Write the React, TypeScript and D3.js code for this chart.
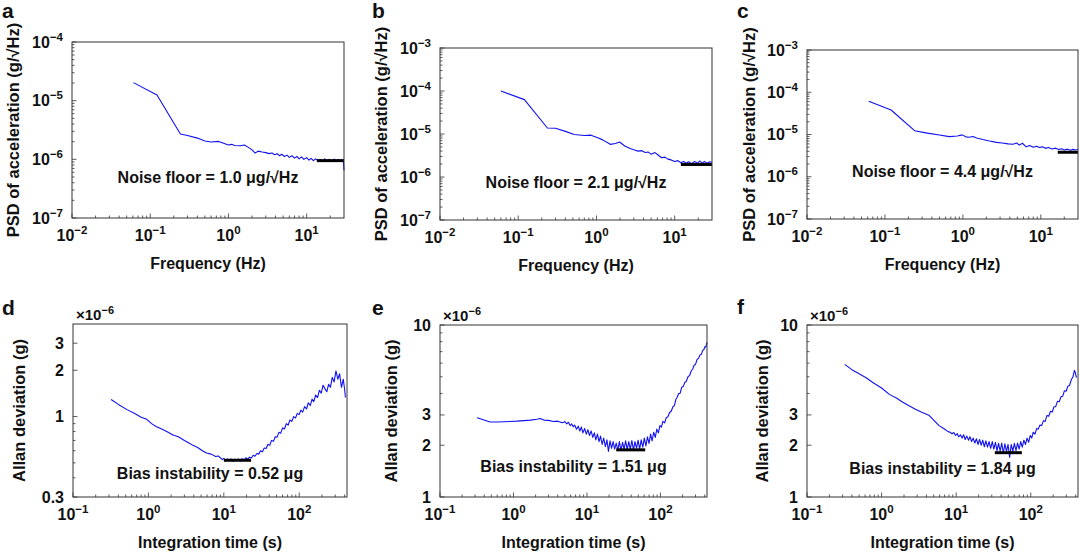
import * as React from 'react';
import {scaleLog, line} from 'd3';

// PSD curves, frequency in Hz, value in µg/√Hz
const psdFreqA = [0.061, 0.122, 0.243, 0.3, 0.4, 0.5, 0.6, 0.75, 0.85, 1.0, 1.1, 1.2, 1.4, 1.6, 1.8, 2.0, 2.2, 2.4, 2.7, 3.0, 3.3, 3.6, 3.9, 4.2, 4.5, 4.8, 5.2, 5.6, 6.0, 6.5, 7.0, 7.5, 8.0, 8.6, 9.2, 10, 10.7, 11.4, 12.2, 13, 14, 15, 16, 17, 18.2, 19.5, 21, 22.5, 24, 25.5, 27, 28.5, 29.5, 30];
const psdValA = [20.3, 12.5, 2.7, 2.55, 2.3, 2.05, 1.98, 2.02, 1.9, 1.75, 1.8, 1.72, 1.7, 1.75, 1.6, 1.45, 1.28, 1.38, 1.33, 1.3, 1.25, 1.28, 1.2, 1.25, 1.15, 1.22, 1.12, 1.18, 1.08, 1.15, 1.05, 1.12, 1.02, 1.1, 1.0, 1.07, 0.97, 1.04, 0.95, 1.02, 0.94, 1.0, 0.93, 1.02, 0.94, 1.0, 0.93, 1.01, 0.94, 1.0, 0.92, 0.98, 0.9, 0.65];

const psdFreqB = [0.06, 0.12, 0.236, 0.3, 0.4, 0.52, 0.7, 0.85, 1.04, 1.2, 1.5, 1.75, 1.98, 2.3, 2.7, 3.0, 3.4, 3.8, 4.2, 4.6, 5.0, 5.6, 6.2, 6.8, 7.5, 8.2, 9.0, 10, 11, 12, 13, 14, 15, 16.5, 18, 19.5, 21, 22.5, 24, 26, 28, 30];
const psdValB = [100, 63, 13.8, 13.6, 11.5, 9.7, 9.2, 9.4, 8.2, 7.3, 5.75, 6.0, 6.5, 5.25, 4.6, 4.3, 4.0, 4.1, 3.7, 3.8, 3.4, 3.7, 3.2, 2.8, 2.9, 2.6, 2.5, 2.3, 2.4, 2.15, 2.3, 2.1, 2.25, 2.05, 2.3, 2.1, 2.35, 2.1, 2.3, 2.1, 2.25, 2.2];

const psdFreqC = [0.062, 0.12, 0.24, 0.35, 0.5, 0.67, 0.85, 0.98, 1.09, 1.2, 1.35, 1.5, 1.8, 2.2, 2.7, 3.2, 3.8, 4.4, 4.9, 5.3, 5.8, 6.5, 7.2, 8.0, 8.8, 9.6, 10.5, 11.5, 12.5, 14, 15.5, 17, 18.5, 20, 22, 24, 26, 28, 30];
const psdValC = [61, 38, 12.3, 10.8, 9.7, 8.9, 9.2, 9.8, 8.8, 8.6, 9.0, 8.3, 7.6, 7.0, 6.5, 6.3, 6.0, 5.9, 6.3, 5.6, 6.2, 5.1, 5.5, 5.0, 5.3, 4.9, 5.1, 4.7, 4.9, 4.55, 4.75, 4.4, 4.6, 4.3, 4.5, 4.25, 4.45, 4.3, 4.4];

// Allan deviation curves, integration time in s, value in µg
const allanTauD = [0.32, 0.4, 0.52, 0.65, 0.8, 0.95, 1.1, 1.28, 1.5, 1.75, 2.12, 2.5, 3.0, 3.5, 3.9, 4.5, 5.2, 5.9, 6.8, 7.8, 8.4,
  9, 9.5, 10, 10.6, 11.2, 11.8, 12.5, 13.2, 14, 14.8, 15.6, 16.5, 17.5, 18.5, 19.6, 20.7, 21.9, 23.2, 24.5, 25.9, 27.4, 29, 30.7, 32.5,
  34.4, 36.4, 38.5, 40.7, 43, 45.5, 48.1, 50.9, 53.8, 56.9, 60.2, 63.7, 67.4, 71.3, 75.4, 79.7, 84.3, 89.2, 94.3, 99.7, 105, 111, 118,
  125, 132, 140, 148, 156, 165, 175, 185, 196, 207, 219, 232, 245, 259, 274, 290, 307, 325, 343, 363, 384, 400, 410];
const allanValD = [1.29, 1.2, 1.11, 1.05, 0.99, 0.96, 0.9, 0.86, 0.83, 0.8, 0.76, 0.74, 0.7, 0.67, 0.65, 0.63, 0.6, 0.58, 0.57, 0.55, 0.555,
  0.54, 0.525, 0.535, 0.515, 0.53, 0.52, 0.53, 0.512, 0.528, 0.518, 0.53, 0.515, 0.532, 0.52, 0.54, 0.528, 0.545, 0.538, 0.56, 0.552, 0.575, 0.57, 0.6, 0.59,
  0.625, 0.62, 0.66, 0.65, 0.7, 0.69, 0.74, 0.735, 0.79, 0.78, 0.845, 0.83, 0.9, 0.88, 0.95, 0.93, 1.0, 0.98, 1.05, 1.03, 1.1, 1.07, 1.16,
  1.12, 1.23, 1.18, 1.3, 1.25, 1.38, 1.33, 1.48, 1.42, 1.6, 1.52, 1.45, 1.62, 1.55, 1.8, 1.68, 1.98, 1.75, 1.9, 1.55, 1.75, 1.5, 1.33];

const allanTauE = [0.32, 0.38, 0.48, 0.6, 0.75, 0.9, 1.1, 1.4, 1.7, 2.08, 2.3, 2.6, 3.0, 3.5, 4.0, 4.6,
  5.0, 5.3, 5.6, 5.9, 6.2, 6.5, 6.8, 7.2, 7.6, 8.0, 8.4, 8.8, 9.3, 9.8, 10.3, 10.8, 11.4, 12, 12.6, 13.2, 13.9, 14.6, 15.3, 16.1, 16.9,
  17.8, 18.7, 19.6, 20.6, 21.6, 22.7, 23.8, 25, 26.3, 27.6, 29, 30.5, 32, 33.6, 35.3, 37, 38.9, 40.8, 42.9, 45, 47.3, 49.6, 52.1, 54.7,
  57.5, 60.3, 63.4, 66.5, 69.9, 73.4, 77, 80.9, 85, 89.2, 93.7, 98.4, 103, 108, 114, 120, 126,
  133, 140, 148, 155, 162, 169, 177, 185, 195, 205, 215, 225, 237, 250, 262, 275, 288, 300, 315, 330, 345, 360, 375, 390, 405, 415, 425, 435];
const allanValE = [2.89, 2.82, 2.73, 2.73, 2.74, 2.75, 2.76, 2.78, 2.8, 2.83, 2.86, 2.8, 2.79, 2.75, 2.76, 2.7,
  2.74, 2.66, 2.72, 2.6, 2.66, 2.56, 2.62, 2.48, 2.58, 2.42, 2.55, 2.36, 2.5, 2.32, 2.46, 2.28, 2.42, 2.22, 2.36, 2.15, 2.32, 2.1, 2.26, 2.02, 2.2,
  1.96, 2.15, 1.84, 2.12, 1.92, 2.1, 1.9, 2.06, 1.87, 2.1, 1.86, 2.08, 1.9, 2.12, 1.88, 2.1, 1.9, 2.13, 1.88, 2.1, 1.92, 2.14, 1.9, 2.15,
  1.95, 2.2, 1.98, 2.24, 2.05, 2.32, 2.12, 2.38, 2.22, 2.48, 2.36, 2.6, 2.55, 2.75, 2.7, 2.9, 2.92,
  3.1, 3.15, 3.35, 3.4, 3.7, 3.8, 4.0, 4.0, 4.35, 4.4, 4.65, 4.7, 5.0, 5.1, 5.4, 5.55, 5.85, 5.9, 6.3, 6.4, 6.7, 6.75, 7.1, 7.2, 7.5, 7.45, 7.8, 7.9];

const allanTauF = [0.32, 0.4, 0.5, 0.62, 0.78, 1.0, 1.27, 1.6, 1.9, 2.3, 2.8, 3.4, 4.3, 5.0, 5.9, 6.8, 7.8,
  8.3, 8.8, 9.3, 9.8, 10.3, 10.8, 11.4, 12, 12.6, 13.2, 13.9, 14.6, 15.3, 16.1, 16.9, 17.8, 18.7, 19.6, 20.6, 21.6, 22.7, 23.8, 25,
  26.3, 27.6, 29, 30.5, 32, 33.6, 35.3, 37, 38.9, 40.8, 42.9, 45, 47.3, 49.6, 52.1, 54.7, 57.5, 60.3, 63.4, 66.5, 69.9, 73.4, 77, 80.9,
  85, 89.2, 93.7, 98.4, 103, 108, 114, 120, 126, 133, 140, 148, 156, 165, 174, 184, 194, 205, 216, 228, 241, 254, 268, 283, 298, 314,
  331, 349, 368, 385, 395, 410];
const allanValF = [5.9, 5.5, 5.2, 4.94, 4.6, 4.3, 3.95, 3.75, 3.57, 3.4, 3.25, 3.12, 2.99, 2.8, 2.6, 2.5, 2.4,
  2.38, 2.33, 2.37, 2.28, 2.34, 2.24, 2.3, 2.2, 2.3, 2.16, 2.26, 2.14, 2.24, 2.1, 2.2, 2.06, 2.18, 2.02, 2.16, 2.0, 2.14, 1.96, 2.12,
  1.95, 2.1, 1.92, 2.1, 1.9, 2.08, 1.86, 2.05, 1.85, 2.06, 1.8, 2.04, 1.84, 2.02, 1.7, 2.02, 1.84, 2.05, 1.86, 2.06, 1.9, 2.1, 1.95, 2.14,
  2.02, 2.2, 2.08, 2.28, 2.2, 2.38, 2.32, 2.5, 2.48, 2.62, 2.6, 2.78, 2.75, 2.98, 2.95, 3.15, 3.12, 3.35, 3.35, 3.6, 3.58, 3.82, 3.85, 4.15, 4.12, 4.4,
  4.45, 4.8, 5.0, 5.45, 5.3, 4.94];

// black reference bars: [x0, x1, level in µ units]
const floorBarA = [13.5, 30, 0.95];
const floorBarB = [12, 30, 1.95];
const floorBarC = [16.5, 30, 3.8];
const biasBarD = [10, 23, 0.52];
const biasBarE = [25, 62, 1.88];
const biasBarF = [33, 76, 1.81];

// tick labels
const psdXExps = [-2, -1, 0, 1];
const allanXExps = [-1, 0, 1, 2];
const psdYExpsA = [-4, -5, -6, -7];
const psdYExpsBC = [-3, -4, -5, -6, -7];
const allanYTicksD = [0.3, 1, 2, 3];
const allanYTicksEF = [1, 2, 3, 10];

const annotations = [
  'Noise floor = 1.0 \u03bcg/\u221aHz',
  'Noise floor = 2.1 \u03bcg/\u221aHz',
  'Noise floor = 4.4 \u03bcg/\u221aHz',
  'Bias instability = 0.52 \u03bcg',
  'Bias instability = 1.51 \u03bcg',
  'Bias instability = 1.84 \u03bcg',
];

const font = '"Liberation Sans", Arial, Helvetica, sans-serif';
const blue = '#1010f0';

type Box = {l: number, t: number, r: number, b: number};
type PanelDef = {
  letter: string, lx: number, ly: number,
  box: Box, kind: 'psd' | 'allan',
  xDomain: [number, number], yDomain: [number, number],
  xs: number[], ys: number[], bar: number[],
  yExps?: number[], yNums?: number[],
  note: string, noteY: number, yTitleX: number,
};

const panels: PanelDef[] = [
  {letter: 'a', lx: 2, ly: 18, box: {l: 72, t: 42, r: 344, b: 218}, kind: 'psd', xDomain: [0.01, 30], yDomain: [1e-7, 1e-4],
    xs: psdFreqA, ys: psdValA, bar: floorBarA, yExps: psdYExpsA, note: annotations[0], noteY: 183, yTitleX: 13},
  {letter: 'b', lx: 372, ly: 18, box: {l: 440, t: 48, r: 712, b: 220}, kind: 'psd', xDomain: [0.01, 30], yDomain: [1e-7, 1e-3],
    xs: psdFreqB, ys: psdValB, bar: floorBarB, yExps: psdYExpsBC, note: annotations[1], noteY: 188, yTitleX: 381},
  {letter: 'c', lx: 737, ly: 18, box: {l: 807, t: 50, r: 1078, b: 219}, kind: 'psd', xDomain: [0.01, 30], yDomain: [1e-7, 1e-3],
    xs: psdFreqC, ys: psdValC, bar: floorBarC, yExps: psdYExpsBC, note: annotations[2], noteY: 177, yTitleX: 749},
  {letter: 'd', lx: 2, ly: 315, box: {l: 73, t: 324, r: 347, b: 497}, kind: 'allan', xDomain: [0.1, 430], yDomain: [0.3e-6, 4e-6],
    xs: allanTauD, ys: allanValD, bar: biasBarD, yNums: allanYTicksD, note: annotations[3], noteY: 479, yTitleX: 19},
  {letter: 'e', lx: 372, ly: 315, box: {l: 440, t: 325, r: 707, b: 497}, kind: 'allan', xDomain: [0.1, 430], yDomain: [1e-6, 10e-6],
    xs: allanTauE, ys: allanValE, bar: biasBarE, yNums: allanYTicksEF, note: annotations[4], noteY: 472, yTitleX: 391},
  {letter: 'f', lx: 737, ly: 314, box: {l: 807, t: 325, r: 1078, b: 497}, kind: 'allan', xDomain: [0.1, 430], yDomain: [1e-6, 10e-6],
    xs: allanTauF, ys: allanValF, bar: biasBarF, yNums: allanYTicksEF, note: annotations[5], noteY: 474, yTitleX: 762},
];

const minus = (e: number) => (e < 0 ? '\u2212' + Math.abs(e) : String(e));

function Pow({x, y, exp, anchor}: {x: number, y: number, exp: number, anchor: string}) {
  return (
    <text x={x} y={y} textAnchor={anchor} fontSize={16} fontWeight="bold">
      10<tspan dy={-7} fontSize={11.5}>{minus(exp)}</tspan>
    </text>
  );
}

function Panel({p}: {p: PanelDef}) {
  const {box} = p;
  const x = scaleLog().domain(p.xDomain).range([box.l, box.r]);
  const y = scaleLog().domain(p.yDomain).range([box.b, box.t]);
  const pts: [number, number][] = p.xs.map((v, i) => [v, p.ys[i] * 1e-6]);
  const path = line<[number, number]>().x(d => x(d[0])).y(d => y(d[1]))(pts) || '';

  const xExps = p.kind === 'psd' ? psdXExps : allanXExps;
  const xMajor = xExps.map(e => Math.pow(10, e));
  const yMajor = p.kind === 'psd' ? p.yExps!.map(e => Math.pow(10, e)) : p.yNums!.map(v => v * 1e-6);
  const near = (a: number, list: number[]) => list.some(m => Math.abs(Math.log10(a) - Math.log10(m)) < 1e-6);
  const xMinor = x.ticks().filter(t => !near(t, xMajor) && t > p.xDomain[0] && t < p.xDomain[1]);
  const yMinor = y.ticks().filter(t => !near(t, yMajor) && t > p.yDomain[0] && t < p.yDomain[1]);
  const cx = (box.l + box.r) / 2;
  const cy = (box.t + box.b) / 2;
  const [b0, b1, bv] = p.bar;

  return (
    <g fontFamily={font} fill="#111">
      <text x={p.lx} y={p.ly} fontSize={21} fontWeight="bold">{p.letter}</text>
      {p.kind === 'allan' && (
        <text x={box.l + 3} y={box.t - 4} fontSize={15} fontWeight="bold">
          {'\u00d710'}<tspan dy={-6} fontSize={11}>{'\u22126'}</tspan>
        </text>
      )}
      {xMinor.map((t, i) => (
        <line key={'xm' + i} x1={x(t)} x2={x(t)} y1={box.b} y2={box.b - 2.5} stroke="#333" strokeWidth={0.8} />
      ))}
      {xMajor.map((t, i) => (
        <line key={'xM' + i} x1={x(t)} x2={x(t)} y1={box.b} y2={box.b - 4.5} stroke="#333" strokeWidth={0.8} />
      ))}
      {yMinor.map((t, i) => (
        <line key={'ym' + i} x1={box.l} x2={box.l + 2.5} y1={y(t)} y2={y(t)} stroke="#333" strokeWidth={0.8} />
      ))}
      {yMajor.map((t, i) => (
        <line key={'yM' + i} x1={box.l} x2={box.l + 4.5} y1={y(t)} y2={y(t)} stroke="#333" strokeWidth={0.8} />
      ))}
      <path d={path} fill="none" stroke={blue} strokeWidth={1.1} strokeLinejoin="round" />
      <line x1={x(b0)} x2={x(b1)} y1={y(bv * 1e-6)} y2={y(bv * 1e-6)} stroke="#000" strokeWidth={3} />
      <rect x={box.l} y={box.t} width={box.r - box.l} height={box.b - box.t} fill="none" stroke="#333" strokeWidth={1} />
      {xExps.map((e, i) => (
        <Pow key={'xl' + i} x={x(xMajor[i])} y={box.b + 23} exp={e} anchor="middle" />
      ))}
      {p.kind === 'psd'
        ? p.yExps!.map((e, i) => (
            <Pow key={'yl' + i} x={box.l - 9} y={y(yMajor[i]) + 5.5} exp={e} anchor="end" />
          ))
        : p.yNums!.map((v, i) => (
            <text key={'yl' + i} x={box.l - 9} y={y(yMajor[i]) + 5.5} textAnchor="end" fontSize={16} fontWeight="bold">{v}</text>
          ))}
      <text x={cx} y={p.noteY} textAnchor="middle" fontSize={16} fontWeight="bold">{p.note}</text>
      <text x={cx} y={box.b + 51} textAnchor="middle" fontSize={16} fontWeight="bold">
        {p.kind === 'psd' ? 'Frequency (Hz)' : 'Integration time (s)'}
      </text>
      <text transform={`translate(${p.yTitleX},${cy}) rotate(-90)`} textAnchor="middle" dy="0.35em" fontSize={16.5} fontWeight="bold">
        {p.kind === 'psd' ? 'PSD of acceleration (g/\u221aHz)' : 'Allan deviation (g)'}
      </text>
    </g>
  );
}

export default function App() {
  return (
    <svg width={1080} height={554} style={{position: 'absolute', left: 0, top: 0, background: '#fff'}}>
      <rect width={1080} height={554} fill="#fff" />
      {panels.map(p => <Panel key={p.letter} p={p} />)}
    </svg>
  );
}
